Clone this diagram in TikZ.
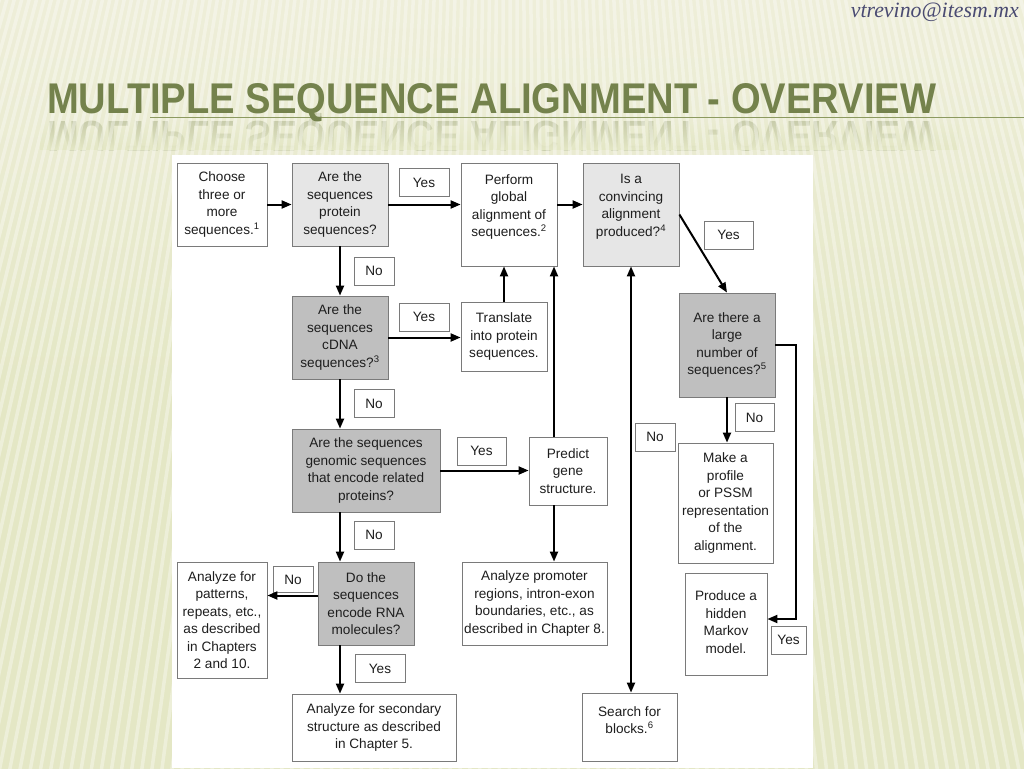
\documentclass[tikz,border=0pt]{standalone}
\usepackage{fontspec}
\setmainfont{Liberation Sans}
\newfontfamily\mailfont{Liberation Serif}
\usetikzlibrary{arrows.meta,fadings}
\definecolor{MSABack}{HTML}{E4E7C5}
\definecolor{MSABackTop}{HTML}{EEEED9}
\definecolor{MSATitle}{HTML}{74824C}
\definecolor{MSARule}{HTML}{8C9A60}
\definecolor{MSAMail}{HTML}{4A4B72}
\definecolor{MSALine}{HTML}{7A7A7A}
\definecolor{MSALight}{HTML}{E6E6E6}
\definecolor{MSADark}{HTML}{BFBFBF}
\definecolor{MSAText}{HTML}{1E1E1E}
\tikzfading[name=reflfade, top color=transparent!100, bottom color=transparent!0]
\newcommand{\boxfont}{\fontsize{13.6}{17.5}\selectfont}
\newcommand{\padbelow}[1]{\rule[-#1pt]{0pt}{#1pt}}
\newcommand{\slidetitle}{\resizebox{889pt}{30pt}{\fontsize{42}{42}\selectfont\bfseries MULTIPLE SEQUENCE ALIGNMENT - OVERVIEW}}
\tikzset{
  box/.style={draw=MSALine, line width=0.8pt, fill=white, inner sep=0pt, align=center, font=\boxfont, text=MSAText},
  lightq/.style={box, fill=MSALight},
  darkq/.style={box, fill=MSADark},
  tag/.style={box, minimum width=40pt, minimum height=28pt},
  flow/.style={line width=2pt, -{Triangle[length=10pt,width=8pt]}},
  flowboth/.style={line width=2pt, {Triangle[length=10pt,width=8pt]}-{Triangle[length=10pt,width=8pt]}},
}
\begin{document}
\begin{tikzpicture}[x=1pt,y=-1pt]
\useasboundingbox (0,0) rectangle (1024,768);
% slide background
\shade[top color=MSABackTop, bottom color=MSABack, middle color=MSABack] (0,0) rectangle (1024,768);
\node[anchor=base west, text=MSATitle, inner sep=0pt, transform shape, yscale=-1, opacity=.3] (titleshadow) at (47,121) {\slidetitle};
\fill[MSABack, path fading=reflfade] (40,119) rectangle (960,150);
\begin{scope}
\clip (0,0) rectangle (1024,768);
\foreach \a in {74,74.22,...,106}
  \draw[white, opacity=.35, line width=3.5pt] (512,-1800) -- ++(\a:3000);
\end{scope}
\draw[MSARule, line width=1pt] (150,117) -- (1024,117);
\node[anchor=base west, text=MSATitle, inner sep=0pt] (title) at (47,113) {\slidetitle};
\node[anchor=base east, text=MSAMail, inner sep=0pt] (mail) at (1019,18) {\resizebox{168pt}{!}{\mailfont\itshape vtrevino@itesm.mx}};
% figure panel
\fill[white] (172,155) rectangle (813,768);
% boxes
\node[box, minimum width=90pt, minimum height=83pt] (choose) at (222,204.5) {Choose\\three or\\more\\sequences.\textsuperscript{1}};
\node[lightq, minimum width=96pt, minimum height=83pt] (protein) at (340,204.5) {Are the\\sequences\\protein\\sequences?};
\node[box, minimum width=96pt, minimum height=103pt] (perform) at (509,214.5) {Perform\\global\\alignment of\\sequences.\textsuperscript{2}\padbelow{18}};
\node[lightq, minimum width=96pt, minimum height=103pt] (convincing) at (631,214.5) {Is a\\convincing\\alignment\\produced?\textsuperscript{4}\padbelow{18}};
\node[darkq, minimum width=96pt, minimum height=83pt] (cdna) at (340,337.5) {Are the\\sequences\\cDNA\\sequences?\textsuperscript{3}};
\node[box, minimum width=86pt, minimum height=69pt] (translate) at (504,336.5) {Translate\\into protein\\sequences.};
\node[darkq, minimum width=96pt, minimum height=104pt] (large) at (727,345) {Are there a\\large\\number of\\sequences?\textsuperscript{5}};
\node[darkq, minimum width=148pt, minimum height=83pt] (genomic) at (366,470.5) {Are the sequences\\genomic sequences\\that encode related\\proteins?};
\node[box, minimum width=78pt, minimum height=68pt] (predict) at (568,471) {Predict\\gene\\structure.};
\node[darkq, minimum width=96pt, minimum height=83pt] (rna) at (366,603.5) {Do the\\sequences\\encode RNA\\molecules?};
\node[box, minimum width=90pt, minimum height=116pt] (patterns) at (222,620) {Analyze for\\patterns,\\repeats, etc.,\\as described\\in Chapters\\2 and 10.};
\node[box, minimum width=164pt, minimum height=67pt] (secondary) at (374,727.5) {Analyze for secondary\\structure as described\\in Chapter 5.};
\node[box, minimum width=145pt, minimum height=83pt] (promoter) at (534.5,603.5) {Analyze promoter\\regions, intron-exon\\boundaries, etc., as\\described in Chapter 8.};
\node[box, minimum width=95pt, minimum height=120pt] (profile) at (725.5,503) {Make a\\profile\\or PSSM\\representation\\of the\\alignment.};
\node[box, minimum width=82pt, minimum height=102pt] (hmm) at (726,624) {Produce a\\hidden\\Markov\\model.\padbelow{4}};
\node[box, minimum width=95pt, minimum height=68pt] (blocks) at (629.5,727) {Search for\\blocks.\textsuperscript{6}\padbelow{14}};
% yes / no tags
\node[tag, minimum width=50pt] (yesprot) at (424,182.5) {Yes};
\node[tag, minimum width=49pt] (yesconv) at (728.5,235) {Yes};
\node[tag] (noprot) at (374,271) {No};
\node[tag, minimum width=50pt] (yescdna) at (424,317) {Yes};
\node[tag] (nocdna) at (374,403.5) {No};
\node[tag, minimum width=49pt] (yesgen) at (481.5,451) {Yes};
\node[tag] (nogen) at (374,535) {No};
\node[tag, minimum height=26pt] (norna) at (293,579.5) {No};
\node[tag, minimum width=50pt] (yesrna) at (380,668.5) {Yes};
\node[tag] (noconv) at (655,437) {No};
\node[tag, minimum width=39pt] (nolarge) at (754.5,417.5) {No};
\node[tag, minimum width=35pt] (yeslarge) at (788.5,640) {Yes};
% connectors
\draw[flow] (choose.east) -- (protein.west);
\draw[flow] (protein.east) -- (protein.east -| perform.west);
\draw[flow] (protein.east -| perform.east) -- (protein.east -| convincing.west);
\draw[flow] (convincing.east) -- (large.north);
\draw[flow] (protein.south) -- (cdna.north);
\draw[flow] (cdna.east) -- (cdna.east -| translate.west);
\draw[flow] (translate.north) -- (translate.north |- perform.south);
\coordinate (predup) at ([xshift=-14pt]predict.north);
\coordinate (preddown) at ([xshift=-14pt]predict.south);
\draw[flow] (predup) -- (predup |- perform.south);
\draw[flow] (preddown) -- (preddown |- promoter.north);
\draw[flow] (genomic.east) -- (genomic.east -| predict.west);
\draw[flow] (cdna.south) -- (cdna.south |- genomic.north);
\draw[flow] (cdna.south |- genomic.south) -- (cdna.south |- rna.north);
\draw[flow] (cdna.south |- rna.south) -- (cdna.south |- secondary.north);
\coordinate (rnaout) at ([yshift=8pt]rna.west);
\draw[flow] (rnaout) -- (rnaout -| patterns.east);
\draw[flowboth] (convincing.south) -- (convincing.south |- blocks.north);
\draw[flow] (large.south) -- (large.south |- profile.north);
\draw[flow] (large.east) -- ++(21,0) |- ([yshift=5pt]hmm.east);
\end{tikzpicture}
\end{document}
